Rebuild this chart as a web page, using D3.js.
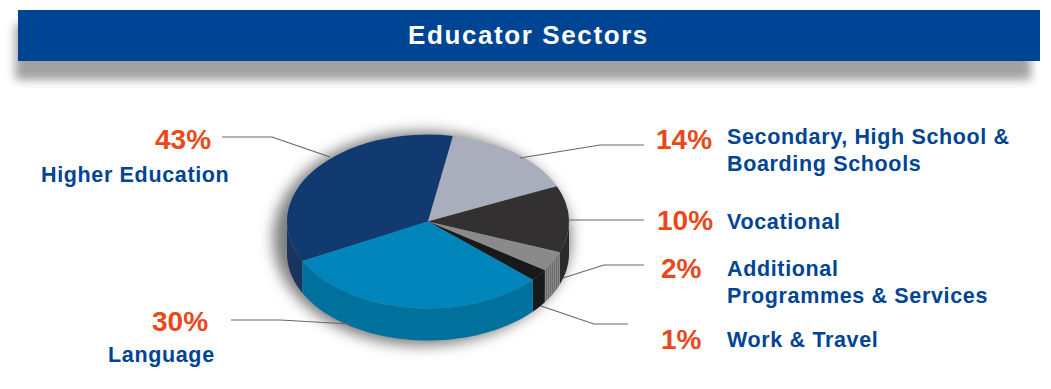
<!DOCTYPE html>
<html>
<head>
<meta charset="utf-8">
<script src="https://cdn.jsdelivr.net/npm/d3@7"></script>
<style>
  html, body { margin: 0; background: #fff; }
  svg { display: block; }
  text { font-family: "Liberation Sans", Arial, sans-serif; font-weight: bold; }
</style>
</head>
<body>
<svg id="chart"></svg>
<script>
const title = 'Educator Sectors';

// clockwise from the Higher Education edge
const sectors = ['Higher Education', 'Secondary, High School & Boarding Schools', 'Vocational', 'Additional Programmes & Services', 'Work & Travel', 'Language'];
const percents = [43, 14, 10, 2, 1, 30];
// the printed slices are not the size of their labels, these are read off the picture
const drawnShares = [35.3, 15.5, 12.4, 3.7, 2.2, 30.8];

const topColors = ['#113a70', '#a9aebd', '#333031', '#8a8a8a', '#171a1a', '#0085bb'];
const wallColors = ['#1a335f', '#a9aebd', '#2b292a', 'url(#dither)', '#161919', '#00719c'];

const width = 1051;
const height = 389;

const svg = d3.select('#chart')
  .attr('width', width)
  .attr('height', height);

const defs = svg.append('defs');
defs.append('filter').attr('id', 'blurBanner')
  .attr('x', '-5%').attr('y', '-60%').attr('width', '110%').attr('height', '220%')
  .append('feGaussianBlur').attr('stdDeviation', 5);
defs.append('filter').attr('id', 'blurPie')
  .attr('x', '-20%').attr('y', '-20%').attr('width', '140%').attr('height', '140%')
  .append('feGaussianBlur').attr('stdDeviation', 7);

const dither = defs.append('pattern').attr('id', 'dither')
  .attr('width', 2).attr('height', 2).attr('patternUnits', 'userSpaceOnUse');
dither.append('rect').attr('width', 2).attr('height', 2).attr('fill', '#868686');
dither.append('rect').attr('width', 1).attr('height', 1).attr('fill', '#555');

// banner
svg.append('rect')
  .attr('x', 15).attr('y', 24).attr('width', 1016).attr('height', 56)
  .attr('fill', '#a2a2a2')
  .attr('filter', 'url(#blurBanner)');
svg.append('rect')
  .attr('x', 18).attr('y', 10).attr('width', 1022).attr('height', 51)
  .attr('fill', '#004494');
svg.append('text')
  .attr('x', 528.5).attr('y', 44)
  .attr('text-anchor', 'middle')
  .attr('fill', '#fff')
  .style('font-size', '26px')
  .style('letter-spacing', '1.6px')
  .text(title);

// pie
const rx = 141;
const ry = 87;
const depth = 32;
const squash = ry / rx;

const pie = d3.pie()
  .sort(null)
  .value(d => d.share)
  .startAngle(-117 * Math.PI / 180)
  .endAngle(243 * Math.PI / 180);

const slices = pie(sectors.map((name, i) => ({ name, share: drawnShares[i], i })));

const arc = d3.arc().innerRadius(0).outerRadius(rx);

const chart = svg.append('g').attr('transform', 'translate(428,221.5)');

// soft shadow behind the pie
chart.append('ellipse')
  .attr('cx', -6).attr('cy', depth / 2 + 1)
  .attr('rx', rx + 8).attr('ry', ry + depth / 2 + 4)
  .attr('fill', '#7d7d7d')
  .attr('filter', 'url(#blurPie)');

// side wall, only the part facing the viewer (90 to 270 degrees)
const wallLine = d3.line();
function wallPath(d) {
  // Higher Education starts below zero, its wall runs on the turn after 180
  const s = d.startAngle < 0 ? d.startAngle + 2 * Math.PI : Math.max(d.startAngle, Math.PI / 2);
  const e = d.startAngle < 0 ? 3 * Math.PI / 2 : Math.min(d.endAngle, 3 * Math.PI / 2);
  if (e <= s) return '';
  const angles = d3.range(0, 41).map(k => s + (e - s) * k / 40);
  const upper = angles.map(a => [rx * Math.sin(a), -ry * Math.cos(a)]);
  const lower = angles.slice().reverse().map(a => [rx * Math.sin(a), -ry * Math.cos(a) + depth]);
  return wallLine(upper.concat(lower)) + 'Z';
}

chart.selectAll('.wall')
  .data(slices)
  .enter().append('path')
  .attr('class', 'wall')
  .attr('d', wallPath)
  .attr('fill', d => wallColors[d.data.i]);

chart.append('g')
  .attr('transform', `scale(1,${squash})`)
  .selectAll('.slice')
  .data(slices)
  .enter().append('path')
  .attr('class', 'slice')
  .attr('d', arc)
  .attr('fill', d => topColors[d.data.i]);

// leaders and labels, same order as sectors
const leaderPoints = [
  [[222, 137], [272, 137], [330, 157]],
  [[644, 145], [600, 145], [520, 158]],
  [[644, 220], [568, 220]],
  [[644, 265], [604, 265], [563, 278]],
  [[628, 324], [594, 324], [541, 306]],
  [[231, 320], [280, 320], [350, 324]]
];
const percentPos = [[155, 149], [656, 149], [657, 230], [661, 278], [661, 349], [152, 331]];
const labelLines = [
  ['Higher Education'],
  ['Secondary, High School &', 'Boarding Schools'],
  ['Vocational'],
  ['Additional', 'Programmes & Services'],
  ['Work & Travel'],
  ['Language']
];
const labelPos = [
  [[41, 182]],
  [[727, 144], [727, 171]],
  [[727, 229]],
  [[727, 276], [727, 303]],
  [[727, 347]],
  [[108, 362]]
];

svg.selectAll('.leader')
  .data(leaderPoints)
  .enter().append('path')
  .attr('class', 'leader')
  .attr('d', d3.line())
  .attr('fill', 'none')
  .attr('stroke', '#666')
  .attr('stroke-width', 1.2);

svg.selectAll('.percent')
  .data(percents)
  .enter().append('text')
  .attr('class', 'percent')
  .attr('x', (d, i) => percentPos[i][0])
  .attr('y', (d, i) => percentPos[i][1])
  .attr('fill', '#e8481a')
  .style('font-size', '28px')
  .text(d => d + '%');

labelLines.forEach((lines, i) => {
  lines.forEach((line, j) => {
    svg.append('text')
      .attr('x', labelPos[i][j][0])
      .attr('y', labelPos[i][j][1])
      .attr('fill', '#004494')
      .style('font-size', '21.5px')
      .style('letter-spacing', '0.65px')
      .text(line);
  });
});
</script>
</body>
</html>
